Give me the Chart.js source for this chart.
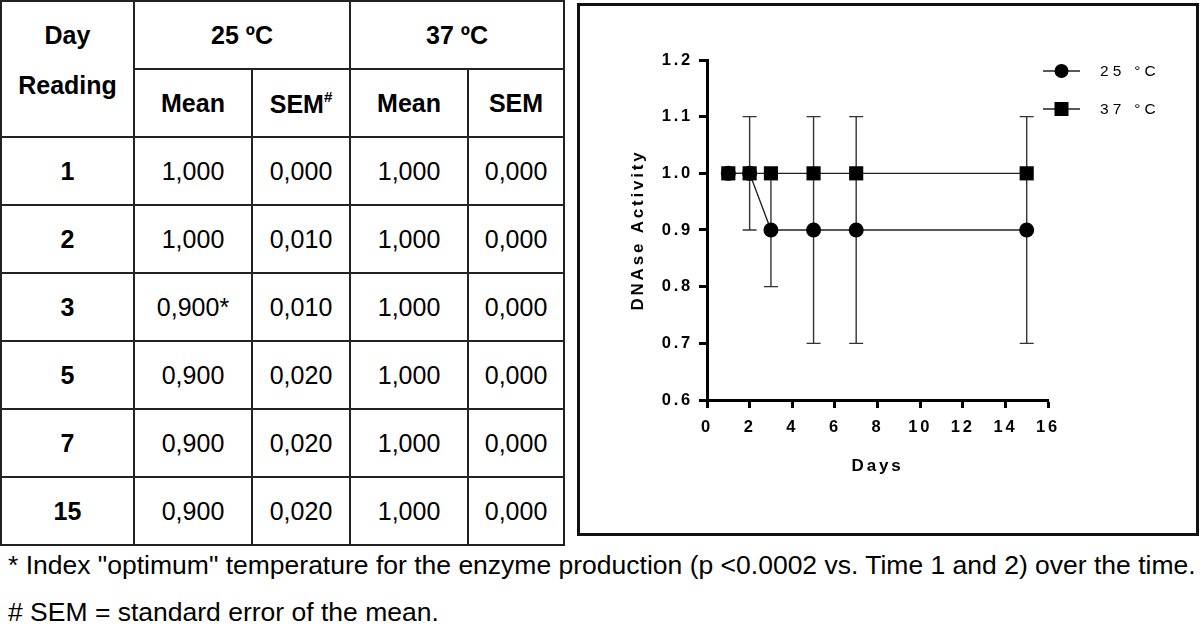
<!DOCTYPE html>
<html>
<head>
<meta charset="utf-8">
<script src="https://cdn.jsdelivr.net/npm/chart.js@4.4.1/dist/chart.umd.min.js"></script>
<style>
  body { margin: 0; width: 1200px; height: 632px; overflow: hidden; background: #fff; position: relative;
         font-family: Arial, "Liberation Sans", sans-serif; color: #000; }
  #tbl { position: absolute; left: 0; top: 0; width: 563px; border-collapse: collapse; table-layout: fixed; font-size: 25px; }
  #tbl td, #tbl th { border: 2px solid #222; text-align: center; padding: 0; }
  #tbl tr { height: 68px; }
  #tbl th { font-weight: bold; }
  #tbl td.day { font-weight: bold; }
  #tbl th.corner { vertical-align: top; line-height: 50px; padding-top: 8px; }
  #tbl sup { font-size: 15px; vertical-align: 11px; }
  #box { position: absolute; left: 577px; top: 3px; width: 622px; height: 533px; border: 3px solid #111; box-sizing: border-box; }
  #chart { position: absolute; left: 0; top: 0; }
  .note { position: absolute; left: 8px; font-size: 26.5px; line-height: 30px; white-space: nowrap; }
</style>
</head>
<body>
<table id="tbl">
  <colgroup>
    <col style="width:133px"><col style="width:118px"><col style="width:98px"><col style="width:118px"><col style="width:96px">
  </colgroup>
  <thead>
    <tr><th class="corner" rowspan="2">Day<br>Reading</th><th colspan="2" id="t25"></th><th colspan="2" id="t37"></th></tr>
    <tr><th>Mean</th><th>SEM<sup>#</sup></th><th>Mean</th><th>SEM</th></tr>
  </thead>
  <tbody id="rows"></tbody>
</table>

<div id="box"><canvas id="chart" width="616" height="527"></canvas></div>

<div class="note" style="top:550px">* Index "optimum" temperature for the enzyme production (p &lt;0.0002 vs. Time 1 and 2) over the time.</div>
<div class="note" style="top:597px"># SEM = standard error of the mean.</div>

<script>
const days = [1, 2, 3, 5, 7, 15];
const mean25 = [1.0, 1.0, 0.9, 0.9, 0.9, 0.9];
const sem25 = [0.000, 0.010, 0.010, 0.020, 0.020, 0.020];
const mark25 = ['', '', '*', '', '', ''];
const mean37 = [1.0, 1.0, 1.0, 1.0, 1.0, 1.0];
const sem37 = [0.000, 0.000, 0.000, 0.000, 0.000, 0.000];
// error bars as they are drawn in the plot
const errBar25 = [0, 0.1, 0.1, 0.2, 0.2, 0.2];
const errBar37 = [0, 0, 0, 0, 0, 0];
const xTicks = [0, 2, 4, 6, 8, 10, 12, 14, 16];
const yTicks = [0.6, 0.7, 0.8, 0.9, 1.0, 1.1, 1.2];
const tempHeads = ['25 ºC', '37 ºC'];
const seriesNames = ['25 °C', '37 °C'];

// table
const fmt = v => v.toFixed(3).replace('.', ',');
document.getElementById('t25').textContent = tempHeads[0];
document.getElementById('t37').textContent = tempHeads[1];
const tbody = document.getElementById('rows');
days.forEach((d, i) => {
  const tr = document.createElement('tr');
  [d, fmt(mean25[i]) + mark25[i], fmt(sem25[i]), fmt(mean37[i]), fmt(sem37[i])].forEach((v, j) => {
    const td = document.createElement('td');
    if (j === 0) td.className = 'day';
    td.textContent = v;
    tr.appendChild(td);
  });
  tbody.appendChild(tr);
});

// chart
const FONT = 'Arial, "Liberation Sans", sans-serif';

const spacing = {
  id: 'spacing',
  beforeDraw(chart) { chart.ctx.letterSpacing = '2.8px'; }
};

const errorBars = {
  id: 'errorBars',
  beforeDatasetsDraw(chart) {
    const {ctx, scales: {x, y}} = chart;
    ctx.save();
    ctx.strokeStyle = '#333';
    ctx.lineWidth = 1.4;
    chart.data.datasets.forEach(ds => {
      ds.errors.forEach((e, i) => {
        if (!e) return;
        const px = x.getPixelForValue(ds.data[i].x);
        const top = y.getPixelForValue(ds.data[i].y + e);
        const bot = y.getPixelForValue(ds.data[i].y - e);
        ctx.beginPath();
        ctx.moveTo(px, top); ctx.lineTo(px, bot);
        ctx.moveTo(px - 7, top); ctx.lineTo(px + 7, top);
        ctx.moveTo(px - 7, bot); ctx.lineTo(px + 7, bot);
        ctx.stroke();
      });
    });
    ctx.restore();
  }
};

// legend with the line running through the marker
const lineLegend = {
  id: 'lineLegend',
  afterDraw(chart) {
    const ctx = chart.ctx;
    ctx.save();
    ctx.letterSpacing = '4.2px';
    ctx.font = '15.5px ' + FONT;
    ctx.textBaseline = 'middle';
    ctx.fillStyle = '#000';
    const rows = [0, 1].map(k => chart.data.datasets.find(ds => ds.label === seriesNames[k]));
    rows.forEach((ds, k) => {
      const cy = 65 + k * 38;
      ctx.strokeStyle = '#222';
      ctx.lineWidth = 1.4;
      ctx.beginPath(); ctx.moveTo(463, cy); ctx.lineTo(500, cy); ctx.stroke();
      ctx.beginPath();
      if (ds.pointStyle === 'rect') ctx.rect(474.5, cy - 7, 14, 14);
      else ctx.arc(481.5, cy, 7, 0, Math.PI * 2);
      ctx.fill();
      ctx.fillText(ds.label, 520, cy + 1);
    });
    ctx.restore();
  }
};

const axisTicks = {
  font: {family: FONT, size: 16.5, weight: 'bold'},
  color: '#000'
};

new Chart(document.getElementById('chart'), {
  type: 'line',
  data: {
    datasets: [
      {
        label: seriesNames[0],
        data: days.map((d, i) => ({x: d, y: mean25[i]})),
        errors: errBar25,
        borderColor: '#222', borderWidth: 1.4,
        pointStyle: 'circle', pointRadius: 7.5, pointBorderWidth: 0,
        pointBackgroundColor: '#000',
        order: 1
      },
      {
        label: seriesNames[1],
        data: days.map((d, i) => ({x: d, y: mean37[i]})),
        errors: errBar37,
        borderColor: '#222', borderWidth: 1.4,
        pointStyle: 'rect', pointRadius: 10, pointBorderWidth: 0,
        pointBackgroundColor: '#000',
        order: 0
      }
    ]
  },
  options: {
    responsive: false,
    animation: false,
    layout: {padding: {left: 48, top: 54, right: 148, bottom: 56}},
    plugins: {legend: {display: false}, tooltip: {enabled: false}},
    scales: {
      x: {
        type: 'linear', min: 0, max: 16,
        afterBuildTicks: s => { s.ticks = xTicks.map(v => ({value: v})); },
        afterFit: s => { s.height = 77; },
        ticks: {...axisTicks, padding: 10},
        grid: {drawOnChartArea: false, tickLength: 8, tickWidth: 3, color: '#000'},
        border: {width: 3, color: '#000'},
        title: {display: true, text: 'Days', color: '#000', padding: 0,
                font: {family: FONT, size: 17, weight: 'bold'}}
      },
      y: {
        min: 0.6, max: 1.2,
        afterBuildTicks: s => { s.ticks = yTicks.map(v => ({value: v})); },
        afterFit: s => { s.width = 79; },
        ticks: {...axisTicks, padding: 6, callback: v => v.toFixed(1)},
        grid: {drawOnChartArea: false, tickLength: 8, tickWidth: 3, color: '#000'},
        border: {width: 3, color: '#000'},
        title: {display: true, text: 'DNAse Activity', color: '#000', padding: 0,
                font: {family: FONT, size: 17, weight: 'bold'}}
      }
    }
  },
  plugins: [spacing, errorBars, lineLegend]
});
</script>
</body>
</html>
